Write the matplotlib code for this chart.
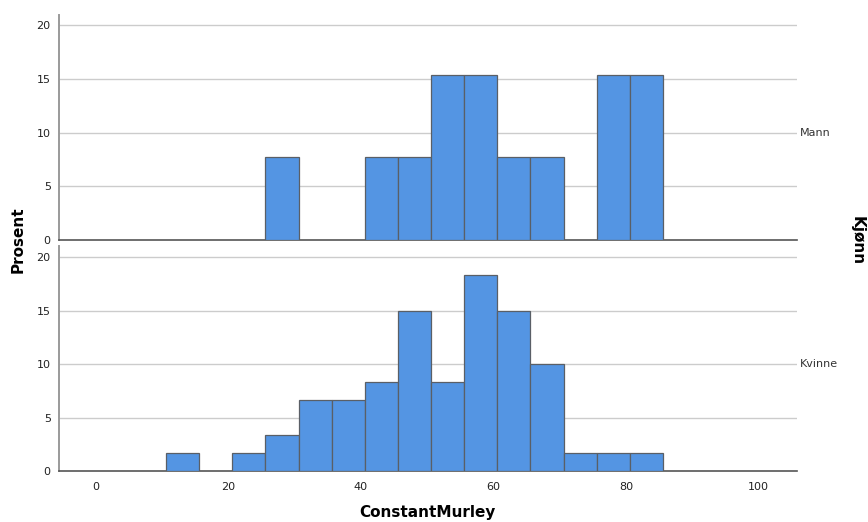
import matplotlib
matplotlib.use("Agg")
import matplotlib.pyplot as plt
import matplotlib.transforms as mtransforms
import numpy as np

# Histogram of ConstantMurley by gender, bins of width 5 (percent within group)
bin_edges = list(range(0, 105, 5))
mann_pct = [0, 0, 0, 0, 0, 7.69, 0, 0, 7.69, 7.69, 15.38, 15.38, 7.69, 7.69, 0, 15.38, 15.38, 0, 0, 0]
kvinne_pct = [0, 0, 1.67, 0, 1.67, 3.33, 6.67, 6.67, 8.33, 15.0, 8.33, 18.33, 15.0, 10.0, 1.67, 1.67, 1.67, 0, 0, 0]
panel_labels = ["Mann", "Kvinne"]
x_ticks = [0, 20, 40, 60, 80, 100]
y_ticks = [0, 5, 10, 15, 20]

bar_color = "#5495e3"
edge_color = "#5a5f66"
grid_color = "#cccccc"

fig = plt.figure(figsize=(8.68, 5.22), dpi=100)
ax_top = fig.add_axes([0.068, 0.540, 0.850, 0.431])
ax_bot = fig.add_axes([0.068, 0.0977, 0.850, 0.431])

for ax, vals, label, ytop in [(ax_top, mann_pct, panel_labels[0], 20.93),
                              (ax_bot, kvinne_pct, panel_labels[1], 21.03)]:
    left = np.array(bin_edges[:-1])
    vals = np.array(vals)
    mask = vals > 0
    ax.bar(left[mask], vals[mask], width=5, align="edge", color=bar_color,
           edgecolor=edge_color, linewidth=0.9, zorder=3)
    ax.set_xlim(-6.14, 105.2)
    ax.set_ylim(0, ytop)
    ax.set_yticks(y_ticks)
    for y in y_ticks[1:]:
        ax.axhline(y, color=grid_color, linewidth=1.0, zorder=1)
    for s in ["top", "right"]:
        ax.spines[s].set_visible(False)
    ax.spines["left"].set_color("#9a9a9a")
    ax.spines["left"].set_linewidth(1.4)
    ax.spines["bottom"].set_color("#555555")
    ax.spines["bottom"].set_linewidth(1.2)
    ax.tick_params(axis="y", length=0, labelsize=8, pad=6, labelcolor="#222222")
    ax.tick_params(axis="x", length=0, labelsize=8, pad=8, labelcolor="#222222")
    ax.text(1.004, 10 / ytop, label, transform=ax.transAxes, fontsize=8,
            color="#333333", va="center", ha="left")

ax_top.set_xticks([])
ax_bot.set_xticks(x_ticks)
# x tick labels sit a few pixels left of their ticks
shift = mtransforms.ScaledTranslation(-4 / 100, 0, fig.dpi_scale_trans)
for lbl in ax_bot.get_xticklabels():
    lbl.set_transform(lbl.get_transform() + shift)

fig.text(0.5 * (0.068 + 0.918), 0.018, "ConstantMurley", ha="center", va="center",
         fontsize=11, fontweight="bold")
fig.text(0.021, 0.54, "Prosent", ha="center", va="center", rotation=90,
         fontsize=11, fontweight="bold")
fig.text(0.988, 0.54, "Kjønn", ha="center", va="center", rotation=-90,
         fontsize=11, fontweight="bold")

fig.savefig("out.png", dpi=100)
